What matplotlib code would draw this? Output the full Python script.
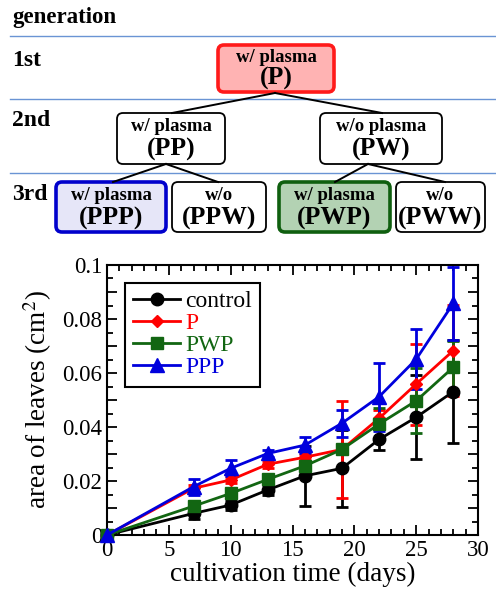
import numpy as np
import matplotlib
matplotlib.use("Agg")
import matplotlib.pyplot as plt
from matplotlib.patches import FancyBboxPatch
from matplotlib.ticker import MultipleLocator, FuncFormatter

plt.rcParams['font.family'] = ['Liberation Serif', 'DejaVu Serif']
plt.rcParams['mathtext.fontset'] = 'stix'

# cultivation days
days = [0, 7, 10, 13, 16, 19, 22, 25, 28]

# leaf area (cm^2) and error bars
control = [0, 0.0080, 0.0111, 0.0167, 0.0219, 0.0247, 0.0354, 0.0436, 0.0531]
control_err = [0, 0.002, 0.002, 0.002, 0.011, 0.0143, 0.004, 0.0156, 0.019]
p_vals = [0, 0.0173, 0.0204, 0.0262, 0.0288, 0.0317, 0.0432, 0.0559, 0.0683]
p_err = [0, 0.0012, 0.0012, 0.0012, 0.0012, 0.018, 0.003, 0.015, 0.017]
pwp = [0, 0.0107, 0.0154, 0.0206, 0.0256, 0.0317, 0.0411, 0.0497, 0.0621]
pwp_err = [0, 0.0012, 0.0012, 0.0012, 0.0012, 0.0012, 0.006, 0.012, 0.0099]
ppp = [0, 0.0179, 0.0247, 0.0302, 0.0333, 0.0414, 0.0512, 0.0651, 0.0858]
ppp_err = [0, 0.003, 0.003, 0.0012, 0.003, 0.005, 0.0126, 0.0112, 0.0135]

series = [
    ("control", control, control_err, "black", "o", 9),
    ("P", p_vals, p_err, "#ff0000", "D", 6),
    ("PWP", pwp, pwp_err, "#126612", "s", 8.5),
    ("PPP", ppp, ppp_err, "#0000dd", "^", 9.5),
]

fig = plt.figure(figsize=(4.96, 5.96), dpi=100)

# ---- generation diagram (pixel coordinates) ----
dg = fig.add_axes([0, 0, 1, 1])
dg.set_xlim(0, 496)
dg.set_ylim(596, 0)
dg.axis("off")

for yl in [36, 99, 173]:
    dg.plot([10, 496], [yl, yl], color="#6a94d4", lw=1.0)

dg.text(12, 18, "generation", fontsize=16.5, fontweight="bold", va="center")
for lab, yy in [("1st", 60), ("2nd", 120), ("3rd", 195)]:
    dg.text(12, yy, lab, fontsize=17, fontweight="bold", va="center")

# (x0, x1, y0, y1, top text, bottom text, edge, face)
boxes = [
    (218, 334, 45, 92, "w/ plasma", "(P)", "#ff1a1a", "#ffb3b3"),
    (117, 225, 113, 164, "w/ plasma", "(PP)", "black", "white"),
    (320, 442, 113, 164, "w/o plasma", "(PW)", "black", "white"),
    (56, 166, 182, 232, "w/ plasma", "(PPP)", "#0000cc", "#e6e6f8"),
    (172, 266, 182, 232, "w/o", "(PPW)", "black", "white"),
    (279, 390, 182, 232, "w/ plasma", "(PWP)", "#0f5f0f", "#b3d2b3"),
    (396, 485, 182, 232, "w/o", "(PWW)", "black", "white"),
]
for x0, x1, y0, y1, t1, t2, ec, fc in boxes:
    thick = ec != "black"
    dg.add_patch(FancyBboxPatch((x0, y0), x1 - x0, y1 - y0,
                                boxstyle="round,pad=0,rounding_size=6",
                                ec=ec, fc=fc, lw=2.6 if thick else 1.3))
    xc = (x0 + x1) / 2
    h = y1 - y0
    dg.text(xc, y0 + 0.26 * h, t1, fontsize=13.5, fontweight="bold",
            ha="center", va="center")
    dg.text(xc, y0 + 0.72 * h, t2, fontsize=18.5, fontweight="bold",
            ha="center", va="center")

links = [
    ((275, 93), (172, 113)), ((275, 93), (382, 113)),
    ((166, 164), (113, 182)), ((166, 164), (218, 182)),
    ((368, 164), (335, 182)), ((368, 164), (445, 182)),
]
for (xa, ya), (xb, yb) in links:
    dg.plot([xa, xb], [ya, yb], color="black", lw=1.4)

# ---- growth chart ----
ax = fig.add_axes([107 / 496, 61 / 596, 371 / 496, 270 / 596])
handles = []
for name, vals, err, col, mk, ms in series:
    cont = ax.errorbar(days, vals, yerr=err, color=col, marker=mk, markersize=ms,
                       lw=2.0, elinewidth=2.0, capsize=4, capthick=2.0, label=name,
                       clip_on=False, zorder=3)
    handles.append(cont[0])

ax.set_xlim(0, 30)
ax.set_ylim(0, 0.1)
ax.xaxis.set_major_locator(MultipleLocator(5))
ax.xaxis.set_minor_locator(MultipleLocator(1))
ax.yaxis.set_major_locator(MultipleLocator(0.01))
ax.yaxis.set_minor_locator(MultipleLocator(0.005))


def yfmt(v, pos):
    k = int(round(v * 100))
    if k % 2:
        return ""
    return "0" if k == 0 else "%g" % (k / 100)


ax.yaxis.set_major_formatter(FuncFormatter(yfmt))
ax.tick_params(which="both", direction="in", top=True, right=True,
               labelsize=16.5, width=1.3)
ax.tick_params(which="major", length=7)
ax.tick_params(which="minor", length=4)
for s in ax.spines.values():
    s.set_linewidth(1.5)

ax.set_xlabel("cultivation time (days)", fontsize=19.5, labelpad=1)
ax.set_ylabel("area of leaves (cm$^2$)", fontsize=19.5, labelpad=6)

leg = ax.legend(handles, [s[0] for s in series], loc="upper left",
                bbox_to_anchor=(0.048, 0.935), fontsize=17,
                fancybox=False, edgecolor="black", framealpha=1,
                handlelength=2.0, borderpad=0.35, labelspacing=0.02,
                handletextpad=0.2, borderaxespad=0)
leg.get_frame().set_linewidth(1.5)
for txt, s in zip(leg.get_texts(), series):
    txt.set_color(s[3])

fig.savefig("out.png", dpi=100)
